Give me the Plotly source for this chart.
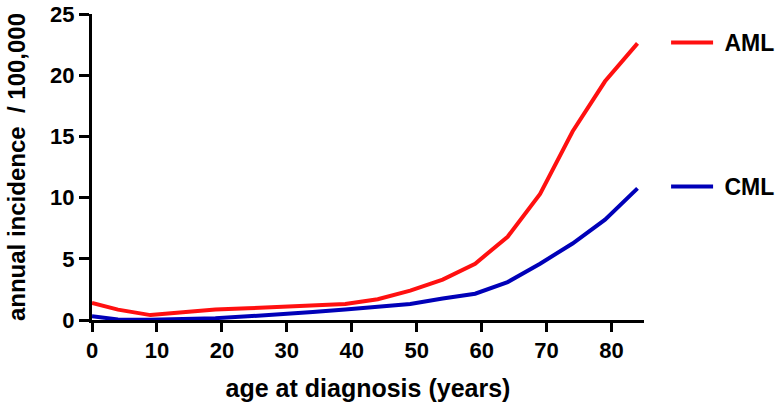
import plotly.graph_objects as go

ages = [0, 4, 9, 14, 19, 24, 29, 34, 39, 44, 49, 54, 59, 64, 69, 74, 79, 84]
aml = [1.4, 0.85, 0.4, 0.6, 0.85, 0.95, 1.05, 1.15, 1.3, 1.7, 2.4, 3.3, 4.6, 6.8, 10.3, 15.4, 19.5, 22.6]
cml = [0.3, 0.05, 0.02, 0.05, 0.15, 0.3, 0.45, 0.65, 0.85, 1.05, 1.3, 1.75, 2.15, 3.1, 4.6, 6.25, 8.2, 10.75]
x_ticks = [0, 10, 20, 30, 40, 50, 60, 70, 80]
y_ticks = [0, 5, 10, 15, 20, 25]

FONT = "Liberation Sans, Arial, sans-serif"
NB = "\u00a0"

fig = go.Figure()
fig.add_trace(go.Scatter(x=ages, y=aml, mode="lines", name=NB + "AML", legendgroup="a",
                         line=dict(color="#ff1010", width=4)))
fig.add_trace(go.Scatter(x=ages, y=cml, mode="lines", name=NB + "CML", legendgroup="c",
                         line=dict(color="#0000b8", width=4)))

fig.update_layout(
    width=784, height=410,
    margin=dict(l=92, r=140, t=14, b=90, autoexpand=False),
    paper_bgcolor="white", plot_bgcolor="white",
    font=dict(family=FONT, size=22, color="black"),
    legend=dict(x=1.04, y=0.977, xanchor="left", yanchor="top",
                traceorder="grouped", tracegroupgap=111, borderwidth=0,
                font=dict(family=FONT, size=23, color="black", weight="bold"),
                itemwidth=42, bgcolor="rgba(0,0,0,0)"),
    xaxis=dict(range=[0, 85], tickvals=x_ticks, showgrid=False, zeroline=False,
               automargin=False, ticklabeloverflow="allow",
               showline=True, linecolor="black", linewidth=3,
               ticks="outside", ticklen=9, tickwidth=3, tickcolor="black",
               tickfont=dict(family=FONT, size=22, weight="bold"),
               title=dict(text="age at diagnosis (years)", standoff=18,
                          font=dict(family=FONT, size=25, weight="bold"))),
    yaxis=dict(range=[0, 25], tickvals=y_ticks, showgrid=False, zeroline=False,
               automargin=False, ticklabeloverflow="allow",
               showline=True, linecolor="black", linewidth=3,
               ticks="outside", ticklen=10, tickwidth=3, tickcolor="black",
               tickfont=dict(family=FONT, size=22, weight="bold"),
               title=dict(text="annual incidence  / 100,000", standoff=18,
                          font=dict(family=FONT, size=24, weight="bold"))),
)

fig.write_html("out.html", config={"displayModeBar": False},
               post_script="document.body.style.margin='0';")
